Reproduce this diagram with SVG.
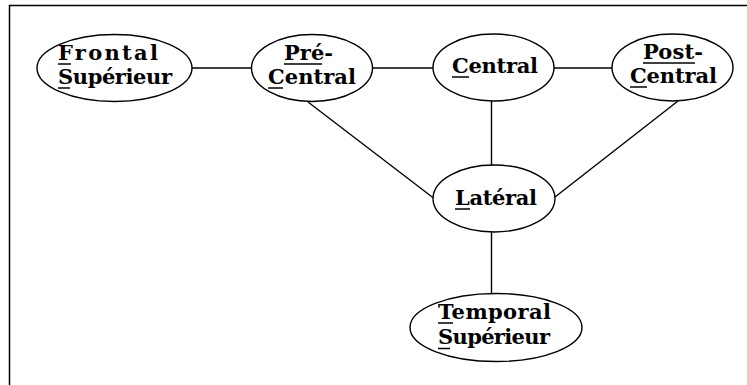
<svg xmlns="http://www.w3.org/2000/svg" width="747" height="385" viewBox="0 0 747 385">
<style>
.n{fill:#fff;stroke:#000;stroke-width:1.4}
.u{stroke:#000;stroke-width:1.5}
.c line{stroke:#000;stroke-width:1.4}
</style>
<rect width="747" height="385" fill="#fff"/>
<path d="M9.5 385 V5.5 H747" fill="none" stroke="#000" stroke-width="1.5"/>
<g class="c" id="connectors">
<line x1="192" y1="68" x2="252" y2="68"/>
<line x1="373" y1="68" x2="433" y2="68"/>
<line x1="554" y1="68" x2="612" y2="68"/>
<line x1="491.5" y1="101" x2="491.5" y2="165"/>
<line x1="308" y1="102" x2="433.5" y2="198"/>
<line x1="678" y1="101" x2="555" y2="197"/>
<line x1="491.5" y1="232" x2="491.5" y2="294"/>
</g>
<g font-family="DejaVu Serif, Liberation Serif, serif" font-size="21" font-weight="bold" fill="#000">
<g id="frontal">
<ellipse class="n" cx="114.5" cy="68" rx="77.5" ry="33.5"/>
<text x="58" y="60" textLength="100">Frontal</text>
<text x="58" y="84" textLength="114">Supérieur</text>
<line class="u" x1="58" y1="64" x2="71" y2="64"/>
<line class="u" x1="58" y1="88" x2="70" y2="88"/>
</g>
<g id="precentral">
<ellipse class="n" cx="312" cy="68" rx="60.5" ry="33.5"/>
<text x="284" y="60" textLength="49">Pré-</text>
<text x="268" y="84" textLength="88">Central</text>
<line class="u" x1="284" y1="64" x2="322" y2="64"/>
<line class="u" x1="268" y1="88" x2="283" y2="88"/>
</g>
<g id="central">
<ellipse class="n" cx="493.5" cy="67.5" rx="60.5" ry="33.5"/>
<text x="452" y="73" textLength="86">Central</text>
<line class="u" x1="452" y1="77" x2="469" y2="77"/>
</g>
<g id="postcentral">
<ellipse class="n" cx="672.5" cy="67.5" rx="60.5" ry="33.5"/>
<text x="643" y="59" textLength="60">Post-</text>
<text x="630" y="83" textLength="87">Central</text>
<line class="u" x1="643" y1="63" x2="695" y2="63"/>
<line class="u" x1="630" y1="87" x2="647" y2="87"/>
</g>
<g id="lateral">
<ellipse class="n" cx="494" cy="198.5" rx="61" ry="33.5"/>
<text x="455" y="205" textLength="82">Latéral</text>
<line class="u" x1="455" y1="209" x2="470" y2="209"/>
</g>
<g id="temporal">
<ellipse class="n" cx="496" cy="327.5" rx="86" ry="34"/>
<text x="438" y="319" textLength="113">Temporal</text>
<text x="438" y="344" textLength="112">Supérieur</text>
<line class="u" x1="438" y1="323" x2="453" y2="323"/>
<line class="u" x1="438" y1="348.5" x2="450" y2="348.5"/>
</g>
</g>
</svg>
